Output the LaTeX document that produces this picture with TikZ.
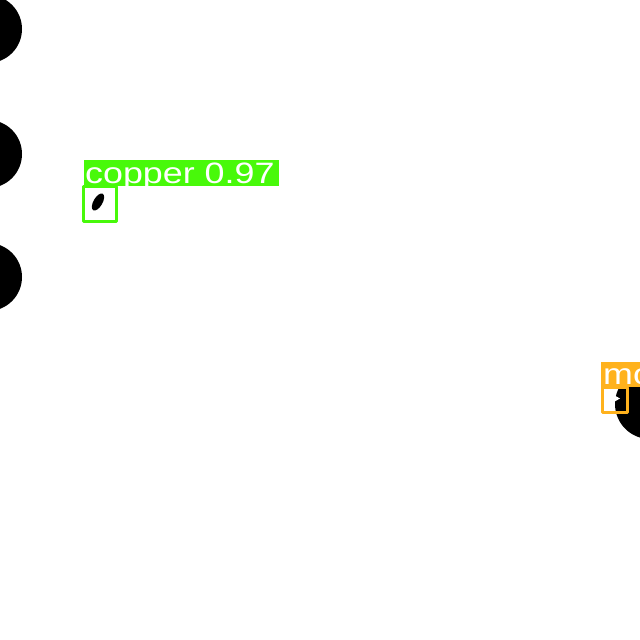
\documentclass[tikz,border=0pt]{standalone}
\usepackage{fontspec}
\setmainfont{Liberation Sans}
\definecolor{detgreen}{HTML}{48F90A}
\definecolor{detorange}{HTML}{FFB21D}
\tikzset{
  blob/.style={fill=black,draw=none},
  detbox/.style={line width=3pt,line join=round},
  labeltext/.style={anchor=base west,inner sep=0pt,text=white,font=\fontsize{29.5}{29.5}\selectfont}
}
\begin{document}
\begin{tikzpicture}[x=1pt,y=-1pt]
\useasboundingbox[fill=white] (0,0) rectangle (640,640);
% left black discs
\fill[blob] (-12,29) circle (34);
\fill[blob] (-12,154) circle (34);
\fill[blob] (-12,277) circle (34);
% copper detection
\fill[detgreen] (84,160) rectangle (279,186);
\node[labeltext] (lab1) at (85,183.5) {\scalebox{1.215}[1]{copper 0.97}};
\draw[detbox,detgreen] (83.5,186.5) rectangle (116.5,221.5);
\fill[blob,rotate around={-30:(98,202)}] (98,202) ellipse (4.5 and 9.5);
% right black disc
\fill[blob] (650,404) circle (35);
% orange detection
\fill[detorange] (601,362) rectangle (640,387);
\node[labeltext] (lab2) at (603,384) {\scalebox{1.215}[1]{mo}};
\draw[detbox,detorange] (602,387.5) rectangle (627,412);
\fill[white] (612,394) -- (620,398.5) -- (612,403) -- cycle;
\end{tikzpicture}
\end{document}
